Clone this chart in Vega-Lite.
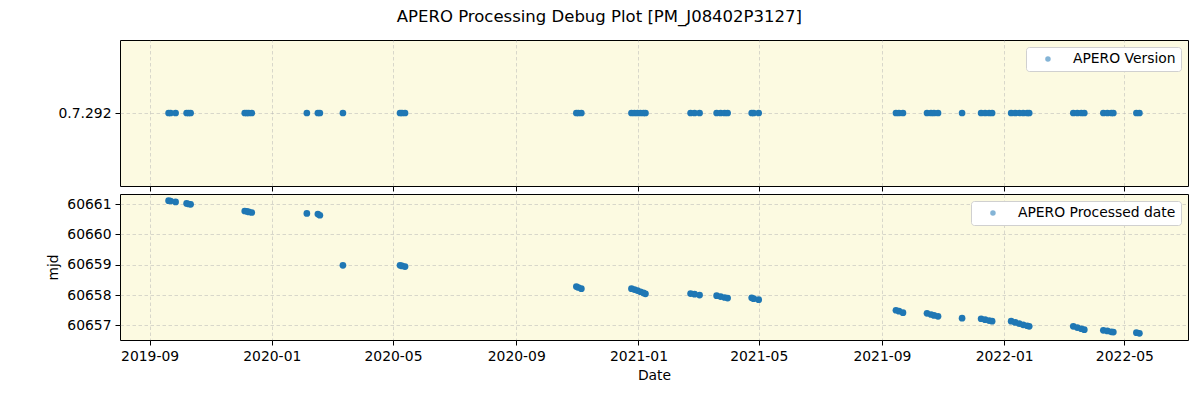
{
  "$schema": "https://vega.github.io/schema/vega-lite/v6.json",
  "autosize": {"type": "pad"},
  "padding": {"left": 46, "top": 9, "right": 12, "bottom": 5},
  "background": "white",
  "title": {"text": "APERO Processing Debug Plot [PM_J08402P3127]", "font": "DejaVu Sans", "fontSize": 16.5, "fontWeight": "normal", "color": "black", "anchor": "middle", "dx": -18, "offset": 14},
  "datasets": {
    "d": [
      {"date": "2019-09-20", "mjd": 60661.11, "version": "0.7.292"},
      {"date": "2019-09-22", "mjd": 60661.10, "version": "0.7.292"},
      {"date": "2019-09-27", "mjd": 60661.07, "version": "0.7.292"},
      {"date": "2019-10-08", "mjd": 60661.02, "version": "0.7.292"},
      {"date": "2019-10-10", "mjd": 60661.00, "version": "0.7.292"},
      {"date": "2019-10-12", "mjd": 60660.99, "version": "0.7.292"},
      {"date": "2019-12-05", "mjd": 60660.77, "version": "0.7.292"},
      {"date": "2019-12-07", "mjd": 60660.76, "version": "0.7.292"},
      {"date": "2019-12-09", "mjd": 60660.74, "version": "0.7.292"},
      {"date": "2019-12-12", "mjd": 60660.72, "version": "0.7.292"},
      {"date": "2020-02-05", "mjd": 60660.69, "version": "0.7.292"},
      {"date": "2020-02-16", "mjd": 60660.67, "version": "0.7.292"},
      {"date": "2020-02-18", "mjd": 60660.63, "version": "0.7.292"},
      {"date": "2020-03-12", "mjd": 60658.98, "version": "0.7.292"},
      {"date": "2020-05-08", "mjd": 60658.98, "version": "0.7.292"},
      {"date": "2020-05-10", "mjd": 60658.96, "version": "0.7.292"},
      {"date": "2020-05-13", "mjd": 60658.94, "version": "0.7.292"},
      {"date": "2020-10-31", "mjd": 60658.28, "version": "0.7.292"},
      {"date": "2020-11-02", "mjd": 60658.25, "version": "0.7.292"},
      {"date": "2020-11-05", "mjd": 60658.21, "version": "0.7.292"},
      {"date": "2020-12-25", "mjd": 60658.21, "version": "0.7.292"},
      {"date": "2020-12-28", "mjd": 60658.18, "version": "0.7.292"},
      {"date": "2020-12-31", "mjd": 60658.15, "version": "0.7.292"},
      {"date": "2021-01-03", "mjd": 60658.11, "version": "0.7.292"},
      {"date": "2021-01-06", "mjd": 60658.07, "version": "0.7.292"},
      {"date": "2021-01-08", "mjd": 60658.04, "version": "0.7.292"},
      {"date": "2021-02-22", "mjd": 60658.05, "version": "0.7.292"},
      {"date": "2021-02-26", "mjd": 60658.03, "version": "0.7.292"},
      {"date": "2021-03-03", "mjd": 60658.00, "version": "0.7.292"},
      {"date": "2021-03-20", "mjd": 60657.98, "version": "0.7.292"},
      {"date": "2021-03-24", "mjd": 60657.95, "version": "0.7.292"},
      {"date": "2021-03-28", "mjd": 60657.92, "version": "0.7.292"},
      {"date": "2021-03-31", "mjd": 60657.90, "version": "0.7.292"},
      {"date": "2021-04-24", "mjd": 60657.91, "version": "0.7.292"},
      {"date": "2021-04-26", "mjd": 60657.88, "version": "0.7.292"},
      {"date": "2021-05-01", "mjd": 60657.85, "version": "0.7.292"},
      {"date": "2021-09-15", "mjd": 60657.50, "version": "0.7.292"},
      {"date": "2021-09-18", "mjd": 60657.47, "version": "0.7.292"},
      {"date": "2021-09-22", "mjd": 60657.42, "version": "0.7.292"},
      {"date": "2021-10-16", "mjd": 60657.40, "version": "0.7.292"},
      {"date": "2021-10-20", "mjd": 60657.36, "version": "0.7.292"},
      {"date": "2021-10-23", "mjd": 60657.33, "version": "0.7.292"},
      {"date": "2021-10-27", "mjd": 60657.30, "version": "0.7.292"},
      {"date": "2021-11-20", "mjd": 60657.24, "version": "0.7.292"},
      {"date": "2021-12-09", "mjd": 60657.22, "version": "0.7.292"},
      {"date": "2021-12-13", "mjd": 60657.19, "version": "0.7.292"},
      {"date": "2021-12-17", "mjd": 60657.16, "version": "0.7.292"},
      {"date": "2021-12-20", "mjd": 60657.14, "version": "0.7.292"},
      {"date": "2022-01-08", "mjd": 60657.14, "version": "0.7.292"},
      {"date": "2022-01-12", "mjd": 60657.10, "version": "0.7.292"},
      {"date": "2022-01-16", "mjd": 60657.06, "version": "0.7.292"},
      {"date": "2022-01-20", "mjd": 60657.02, "version": "0.7.292"},
      {"date": "2022-01-24", "mjd": 60656.99, "version": "0.7.292"},
      {"date": "2022-01-26", "mjd": 60656.97, "version": "0.7.292"},
      {"date": "2022-03-11", "mjd": 60656.97, "version": "0.7.292"},
      {"date": "2022-03-15", "mjd": 60656.93, "version": "0.7.292"},
      {"date": "2022-03-19", "mjd": 60656.89, "version": "0.7.292"},
      {"date": "2022-03-22", "mjd": 60656.86, "version": "0.7.292"},
      {"date": "2022-04-10", "mjd": 60656.84, "version": "0.7.292"},
      {"date": "2022-04-14", "mjd": 60656.82, "version": "0.7.292"},
      {"date": "2022-04-18", "mjd": 60656.79, "version": "0.7.292"},
      {"date": "2022-04-20", "mjd": 60656.78, "version": "0.7.292"},
      {"date": "2022-05-13", "mjd": 60656.76, "version": "0.7.292"},
      {"date": "2022-05-16", "mjd": 60656.74, "version": "0.7.292"}
    ]
  },
  "data": {"name": "d"},
  "spacing": 1,
  "resolve": {"scale": {"color": "independent", "y": "independent"}, "legend": {"color": "independent"}},
  "vconcat": [
    {
      "width": 1068,
      "height": 146,
      "mark": {"type": "point", "filled": true, "size": 45, "opacity": 1},
      "encoding": {
        "x": {"field": "date", "type": "temporal",
          "scale": {"type": "utc", "domain": [{"year": 2019, "month": 8, "date": 2, "hours": 12, "utc": true}, {"year": 2022, "month": 7, "date": 3, "hours": 12, "utc": true}]},
          "axis": {"title": null, "labels": false,
            "values": [{"year": 2019, "month": 9, "date": 1, "utc": true}, {"year": 2020, "month": 1, "date": 1, "utc": true}, {"year": 2020, "month": 5, "date": 1, "utc": true}, {"year": 2020, "month": 9, "date": 1, "utc": true}, {"year": 2021, "month": 1, "date": 1, "utc": true}, {"year": 2021, "month": 5, "date": 1, "utc": true}, {"year": 2021, "month": 9, "date": 1, "utc": true}, {"year": 2022, "month": 1, "date": 1, "utc": true}, {"year": 2022, "month": 5, "date": 1, "utc": true}]}},
        "y": {"field": "version", "type": "nominal", "scale": {"type": "point", "padding": 1}, "axis": {"title": null}},
        "color": {"datum": "APERO Version", "type": "nominal", "scale": {"range": ["#1f77b4"]}, "legend": {"title": null}}
      }
    },
    {
      "width": 1068,
      "height": 146,
      "mark": {"type": "point", "filled": true, "size": 45, "opacity": 1},
      "encoding": {
        "x": {"field": "date", "type": "temporal",
          "scale": {"type": "utc", "domain": [{"year": 2019, "month": 8, "date": 2, "hours": 12, "utc": true}, {"year": 2022, "month": 7, "date": 3, "hours": 12, "utc": true}]},
          "axis": {"title": "Date", "format": "%Y-%m", "titlePadding": 6,
            "values": [{"year": 2019, "month": 9, "date": 1, "utc": true}, {"year": 2020, "month": 1, "date": 1, "utc": true}, {"year": 2020, "month": 5, "date": 1, "utc": true}, {"year": 2020, "month": 9, "date": 1, "utc": true}, {"year": 2021, "month": 1, "date": 1, "utc": true}, {"year": 2021, "month": 5, "date": 1, "utc": true}, {"year": 2021, "month": 9, "date": 1, "utc": true}, {"year": 2022, "month": 1, "date": 1, "utc": true}, {"year": 2022, "month": 5, "date": 1, "utc": true}]}},
        "y": {"field": "mjd", "type": "quantitative", "scale": {"domain": [60656.52, 60661.33], "nice": false, "zero": false},
          "axis": {"title": "mjd", "values": [60657, 60658, 60659, 60660, 60661], "format": "d", "titlePadding": 6}},
        "color": {"datum": "APERO Processed date", "type": "nominal", "scale": {"range": ["#1f77b4"]}, "legend": {"title": null}}
      }
    }
  ],
  "config": {
    "font": "DejaVu Sans",
    "view": {"fill": "#fcfae1", "stroke": "black", "strokeWidth": 1},
    "axis": {
      "domain": false,
      "grid": true,
      "gridColor": "#b0b0b0",
      "gridOpacity": 0.6,
      "gridDash": [3.5, 2.5],
      "gridWidth": 0.8,
      "ticks": true,
      "tickColor": "black",
      "tickSize": 5,
      "tickWidth": 1,
      "labelFont": "DejaVu Sans",
      "labelFontSize": 13.9,
      "labelColor": "black",
      "labelPadding": 4,
      "titleFont": "DejaVu Sans",
      "titleFontSize": 13.9,
      "titleFontWeight": "normal",
      "titleColor": "black",
      "labelFlush": false,
      "labelOverlap": false
    },
    "legend": {
      "orient": "top-right",
      "offset": 7,
      "padding": 5,
      "fillColor": "white",
      "strokeColor": "#d0d0d0",
      "cornerRadius": 3,
      "symbolType": "circle",
      "symbolSize": 30,
      "symbolOpacity": 0.55,
      "symbolOffset": 10,
      "labelOffset": 18,
      "labelFont": "DejaVu Sans",
      "labelFontSize": 13.9,
      "labelColor": "black"
    }
  }
}
